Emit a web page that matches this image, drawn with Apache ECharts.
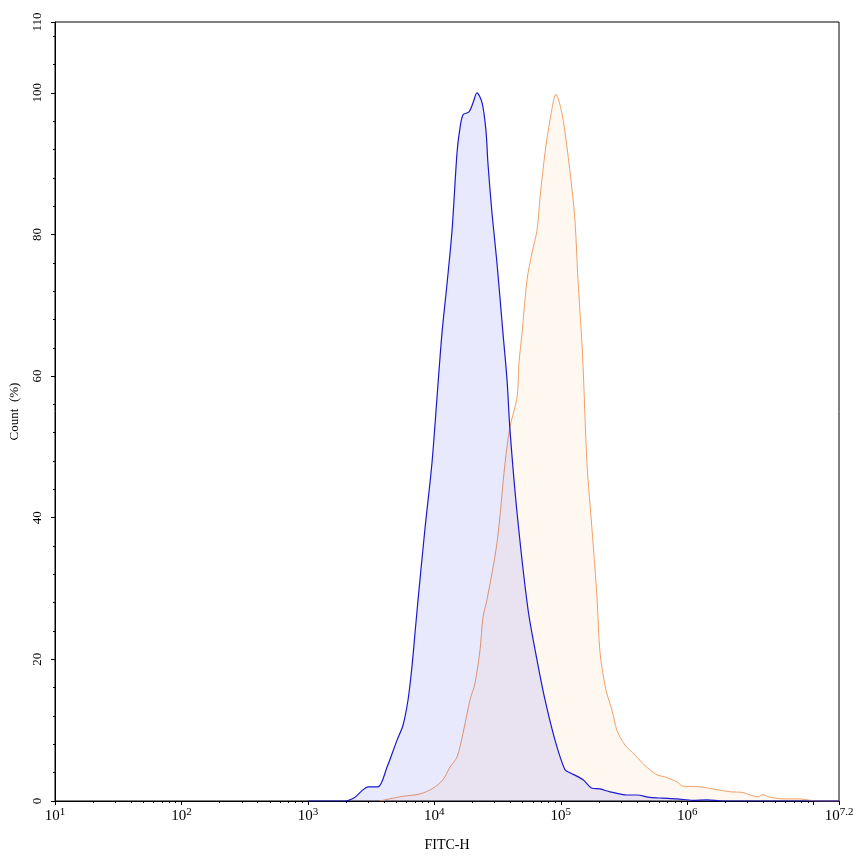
<!DOCTYPE html>
<html>
<head>
<meta charset="utf-8">
<script src="https://cdn.jsdelivr.net/npm/echarts@6/dist/echarts.min.js"></script>
<style>html,body{margin:0;padding:0;background:#fff}#c{width:853px;height:856px}</style>
</head>
<body>
<div id="c"></div>
<script>
// x values are log10(FITC-H), y values are Count (%)
var blueX = [3.0, 3.29, 3.37, 3.43, 3.475, 3.554, 3.626, 3.705, 3.752, 3.792, 3.823, 3.847, 3.871, 3.925, 3.981, 4.021, 4.060, 4.100, 4.140, 4.179, 4.200, 4.227, 4.274, 4.306, 4.337, 4.377, 4.408, 4.424, 4.456, 4.495, 4.543, 4.575, 4.598, 4.654, 4.741, 4.812, 4.875, 4.954, 5.033, 5.073, 5.176, 5.247, 5.310, 5.389, 5.524, 5.603, 5.705, 5.808, 5.919, 6.045, 6.156, 6.283, 7.2];
var blueY = [0, 0, 0.5, 1.5, 2.0, 2.0, 4.8, 8.6, 10.7, 14.3, 19, 23.7, 28.4, 38.3, 47.7, 57, 66, 73, 80.6, 91.5, 94.7, 96.9, 97.3, 98.6, 100, 98.6, 94.7, 90, 83, 76, 66, 59.4, 52.4, 40.7, 27, 19.9, 14.3, 8.6, 4.4, 4.0, 3.0, 1.8, 1.7, 1.3, 0.85, 0.85, 0.5, 0.4, 0.3, 0.1, 0.15, 0, 0];
var orangeX = [3.57, 3.728, 3.887, 3.989, 4.068, 4.124, 4.179, 4.227, 4.282, 4.321, 4.361, 4.385, 4.416, 4.495, 4.559, 4.598, 4.654, 4.669, 4.693, 4.733, 4.772, 4.812, 4.836, 4.875, 4.915, 4.962, 5.009, 5.049, 5.089, 5.112, 5.136, 5.172, 5.207, 5.247, 5.286, 5.310, 5.357, 5.405, 5.444, 5.508, 5.587, 5.666, 5.761, 5.824, 5.919, 5.966, 6.101, 6.235, 6.338, 6.441, 6.496, 6.559, 6.599, 6.654, 6.757, 6.892, 6.971, 7.05, 7.2];
var orangeY = [0, 0.6, 1.0, 1.8, 3, 4.8, 6.2, 9.6, 14.3, 16.6, 21.3, 26, 28.4, 36.4, 47.7, 52.8, 57, 61.8, 66, 73.6, 77.4, 80.6, 85.3, 91.5, 96.2, 99.8, 97.1, 92.3, 86.3, 82, 73.6, 63, 47.7, 38.3, 28.8, 21, 15.7, 12.8, 10, 7.9, 6.5, 5, 3.7, 3.4, 2.7, 2.1, 2.0, 1.6, 1.3, 1.2, 0.85, 0.6, 0.9, 0.55, 0.3, 0.3, 0.1, 0, 0];

// axis ticks and labels
var xMajorTicks = [1, 2, 3, 4, 5, 6, 7, 7.2];
var xLabelExps = [1, 2, 3, 4, 5, 6, 7.2];
var xMinorTicks = [];
for (var d = 1; d <= 7; d++) {
  for (var k = 2; k <= 9; k++) {
    var v = d + Math.log10(k);
    if (v < 7.2) xMinorTicks.push(v);
  }
}
var yMajorTicks = [0, 20, 40, 60, 80, 100, 110];
var yMinorTicks = [4, 8, 12, 16, 24, 28, 32, 36, 44, 48, 52, 56, 64, 68, 72, 76, 84, 88, 92, 96, 104, 108];

function pairs(xs, ys) { return xs.map(function (x, i) { return [x, ys[i]]; }); }

var FONT = 'Liberation Serif';
var chart = echarts.init(document.getElementById('c'));
chart.setOption({
  animation: false,
  backgroundColor: '#fff',
  textStyle: { fontFamily: FONT },
  grid: { left: 55, right: 14, top: 22, bottom: 55, show: true, borderColor: '#000', borderWidth: 1, containLabel: false, outerBoundsMode: 'none' },
  xAxis: [{
    type: 'value', min: 1, max: 7.2,
    name: 'FITC-H', nameLocation: 'middle', nameGap: 37,
    nameTextStyle: { fontFamily: FONT, fontSize: 14, color: '#000' },
    axisLine: { show: true, lineStyle: { color: '#000', width: 1 } },
    axisTick: { show: true, length: 4, lineStyle: { color: '#000' }, customValues: xMajorTicks },
    axisLabel: {
      show: true, margin: 6, color: '#000', customValues: xLabelExps,
      formatter: function (v) {
        var e = Math.round(v * 10) / 10;
        return '{b|10}{s|' + e + '}';
      },
      rich: {
        b: { fontFamily: FONT, fontSize: 15, color: '#000' },
        s: { fontFamily: FONT, fontSize: 11, color: '#000', padding: [0, 0, 8, 0] }
      }
    },
    splitLine: { show: false }
  }, {
    type: 'value', min: 1, max: 7.2, position: 'bottom',
    axisLine: { show: false },
    axisTick: { show: true, length: 2, lineStyle: { color: '#000' }, customValues: xMinorTicks },
    axisLabel: { show: false },
    splitLine: { show: false }
  }],
  yAxis: [{
    type: 'value', min: 0, max: 110,
    name: 'Count  (%)', nameLocation: 'middle', nameGap: 34,
    nameTextStyle: { fontFamily: FONT, fontSize: 13, color: '#000' },
    axisLine: { show: true, lineStyle: { color: '#000', width: 1 } },
    axisTick: { show: true, length: 4, lineStyle: { color: '#000' }, customValues: yMajorTicks },
    axisLabel: { show: true, rotate: 90, margin: 11, color: '#000', fontFamily: FONT, fontSize: 13, customValues: yMajorTicks },
    splitLine: { show: false }
  }, {
    type: 'value', min: 0, max: 110, position: 'left',
    axisLine: { show: false },
    axisTick: { show: true, length: 2, lineStyle: { color: '#000' }, customValues: yMinorTicks },
    axisLabel: { show: false },
    splitLine: { show: false }
  }],
  series: [{
    name: 'orange', type: 'line', data: pairs(orangeX, orangeY),
    showSymbol: false, smooth: 0.3,
    lineStyle: { color: '#f0a068', width: 1 },
    areaStyle: { color: 'rgba(250,160,60,0.1)' },
    z: 2
  }, {
    name: 'blue', type: 'line', data: pairs(blueX, blueY),
    showSymbol: false, smooth: 0.3,
    lineStyle: { color: '#1a1acc', width: 1.2 },
    areaStyle: { color: 'rgba(0,0,235,0.12)' },
    z: 3
  }]
});
</script>
</body>
</html>
